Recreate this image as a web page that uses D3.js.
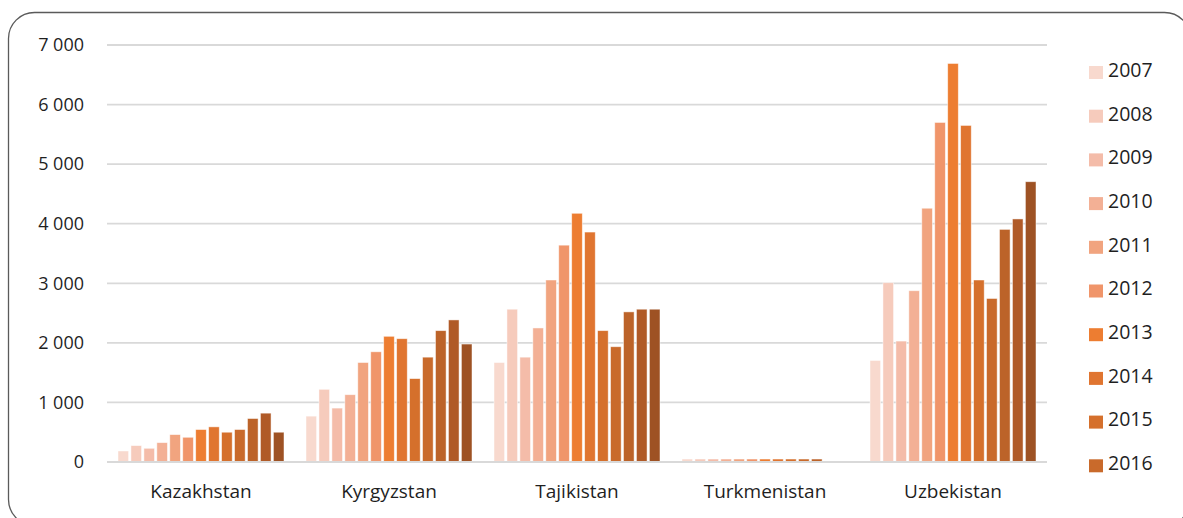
<!DOCTYPE html>
<html>
<head>
<meta charset="utf-8">
<script src="https://cdn.jsdelivr.net/npm/d3@7"></script>
<style>
  body { margin: 0; background: #fff; }
  text { font-family: "Open Sans", "Noto Sans", sans-serif; fill: #1f1f1f; }
</style>
</head>
<body>
<div id="chart"></div>
<script>
// data
var countries = ["Kazakhstan", "Kyrgyzstan", "Tajikistan", "Turkmenistan", "Uzbekistan"];
var years = ["2007", "2008", "2009", "2010", "2011", "2012", "2013", "2014", "2015", "2016", "2017", "2018", "2019"];
var kazakhstan   = [185, 275, 230, 325, 460, 415, 545, 590, 500, 545, 730, 820, 500];
var kyrgyzstan   = [770, 1220, 905, 1130, 1670, 1850, 2110, 2070, 1400, 1760, 2205, 2385, 1980];
var tajikistan   = [1670, 2565, 1760, 2250, 3055, 3640, 4175, 3860, 2205, 1935, 2520, 2565, 2565];
var turkmenistan = [50, 50, 50, 50, 50, 50, 50, 50, 50, 50, 50, 0, 0];
var uzbekistan   = [1705, 3010, 2030, 2875, 4260, 5700, 6690, 5650, 3055, 2745, 3905, 4080, 4705];
var yTicks = [0, 1000, 2000, 3000, 4000, 5000, 6000, 7000];
var legendYears = years.slice(0, 10); // legend is cut off after 2016

var colors = ["#f8d9ce", "#f6cbbc", "#f4bca9", "#f3b095", "#f1a47f", "#f0956a", "#ed7d31",
              "#e07530", "#d5702c", "#c96a2b", "#bc6329", "#b05a27", "#9e5224"];

var series = [kazakhstan, kyrgyzstan, tajikistan, turkmenistan, uzbekistan];

var width = 1183, height = 518;

var svg = d3.select("#chart").append("svg")
    .attr("width", width)
    .attr("height", height);

// frame
svg.append("rect")
    .attr("x", 8.5).attr("y", 12.5)
    .attr("width", 1182).attr("height", 513)
    .attr("rx", 26).attr("ry", 26)
    .attr("fill", "none")
    .attr("stroke", "#5a5a5a")
    .attr("stroke-width", 1.3);

var x0 = d3.scaleBand()
    .domain(countries)
    .range([107, 1047]);

var x1 = d3.scaleBand()
    .domain(years)
    .range([11, x0.bandwidth() - 11])
    .paddingInner(0.18);

var y = d3.scaleLinear()
    .domain([0, 7000])
    .range([462, 45]);

var fmt = d3.formatLocale({decimal: ",", thousands: " ", grouping: [3], currency: ["", ""]}).format(",d");

// grid
svg.append("g").selectAll("line")
    .data(yTicks)
    .enter().append("line")
    .attr("x1", 107).attr("x2", 1047)
    .attr("y1", d => y(d)).attr("y2", d => y(d))
    .attr("stroke", "#d9d9d9")
    .attr("stroke-width", 1.8);

// y labels
svg.append("g").selectAll("text")
    .data(yTicks)
    .enter().append("text")
    .attr("x", 84)
    .attr("y", d => y(d))
    .attr("dy", "0.35em")
    .attr("text-anchor", "end")
    .style("font-size", "18px")
    .text(d => fmt(d));

// bars
var groups = svg.append("g").selectAll("g")
    .data(countries)
    .enter().append("g")
    .attr("transform", d => "translate(" + x0(d) + ",0)");

groups.selectAll("rect")
    .data((d, i) => years.map((yr, j) => ({year: yr, value: series[i][j], idx: j})))
    .enter().append("rect")
    .filter(d => d.value > 0)
    .attr("x", d => x1(d.year))
    .attr("y", d => y(d.value))
    .attr("width", x1.bandwidth())
    .attr("height", d => y(0) - y(d.value))
    .attr("fill", d => colors[d.idx])
    .attr("stroke", "#fff")
    .attr("stroke-opacity", 0.6)
    .attr("stroke-width", 0.8);

// baseline
svg.append("line")
    .attr("x1", 107).attr("x2", 1047)
    .attr("y1", y(0)).attr("y2", y(0))
    .attr("stroke", "#d9d9d9")
    .attr("stroke-width", 2);

// category labels
svg.append("g").selectAll("text")
    .data(countries)
    .enter().append("text")
    .attr("x", d => x0(d) + x0.bandwidth() / 2)
    .attr("y", 498)
    .attr("text-anchor", "middle")
    .style("font-size", "19px")
    .text(d => d);

// legend
var legend = svg.append("g").selectAll("g")
    .data(legendYears)
    .enter().append("g")
    .attr("transform", (d, i) => "translate(1089," + (70 + i * 43.7) + ")");

legend.append("rect")
    .attr("x", 0).attr("y", -4)
    .attr("width", 14).attr("height", 13)
    .attr("fill", (d, i) => colors[i]);

legend.append("text")
    .attr("x", 19)
    .attr("y", 0)
    .attr("dy", "0.35em")
    .style("font-size", "19.5px")
    .text(d => d);
</script>
</body>
</html>
